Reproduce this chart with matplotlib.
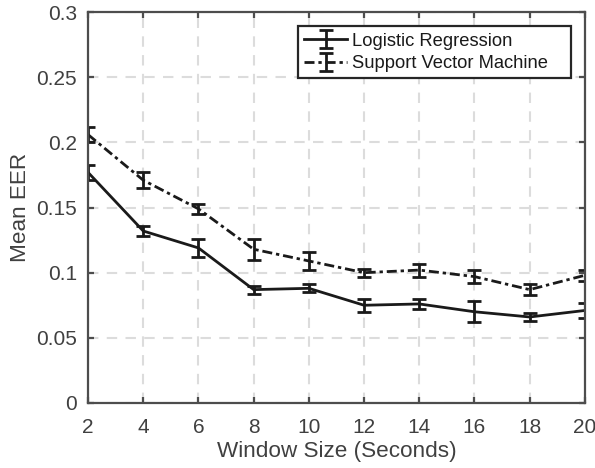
import matplotlib
matplotlib.use("Agg")
import matplotlib.pyplot as plt
from matplotlib.patches import Rectangle

window = [2, 4, 6, 8, 10, 12, 14, 16, 18, 20]
lr_mean = [0.177, 0.132, 0.119, 0.087, 0.088, 0.075, 0.076, 0.070, 0.066, 0.071]
lr_err = [0.006, 0.004, 0.007, 0.003, 0.003, 0.005, 0.004, 0.008, 0.003, 0.006]
svm_mean = [0.206, 0.171, 0.149, 0.118, 0.109, 0.100, 0.102, 0.097, 0.087, 0.098]
svm_err = [0.006, 0.006, 0.004, 0.008, 0.007, 0.003, 0.005, 0.005, 0.004, 0.004]
xticks = [2, 4, 6, 8, 10, 12, 14, 16, 18, 20]
yticks = [0, 0.05, 0.1, 0.15, 0.2, 0.25, 0.3]
ytick_labels = ["0", "0.05", "0.1", "0.15", "0.2", "0.25", "0.3"]

plt.rcParams['font.family'] = ['Liberation Sans', 'DejaVu Sans']
fig = plt.figure(figsize=(5.95, 4.68), dpi=100)
ax = fig.add_axes([0.148, 0.139, 0.835, 0.835])

axcol = '#4d4d4d'
txtcol = '#404040'
ax.errorbar(window, lr_mean, yerr=lr_err, color='#1a1a1a', lw=2, ls='-',
            capsize=5, capthick=2, elinewidth=2, label='Logistic Regression')
ax.errorbar(window, svm_mean, yerr=svm_err, color='#1a1a1a', lw=2, ls=(0, (3.6, 1.4, 1.2, 1.4)),
            capsize=5, capthick=2, elinewidth=2, label='Support Vector Machine')

ax.set_xlim(2, 20)
ax.set_ylim(0, 0.3)
ax.set_xticks(xticks)
ax.set_yticks(yticks)
ax.set_yticklabels(ytick_labels)
ax.grid(True, color='#dcdcdc', ls=(0, (5, 4)), lw=1.5)
ax.set_axisbelow(True)
for s in ax.spines.values():
    s.set_color(axcol)
    s.set_linewidth(1.6)
ax.tick_params(direction='in', length=4.5, width=1.6, colors=axcol, labelsize=15,
               top=True, right=True, labelcolor=txtcol)
ax.tick_params(axis='y', pad=8)
ax.tick_params(axis='x', pad=11)
ax.set_xlabel('Window Size (Seconds)', fontsize=16.2, color=txtcol, labelpad=3)
ax.set_ylabel('Mean EER', fontsize=16.2, color=txtcol, labelpad=4)

leg = ax.legend(loc='upper left', bbox_to_anchor=(0.4225, 0.964), fontsize=13.2,
                frameon=False, handlelength=2.35, handletextpad=0.27,
                borderaxespad=0, labelspacing=0.3, borderpad=0.35)
for t in leg.get_texts():
    t.set_color('#1a1a1a')
frame = Rectangle((0.4225, 0.831), 0.972 - 0.4225, 0.964 - 0.831, transform=ax.transAxes,
                  facecolor='white', edgecolor='#262626', lw=1.6, zorder=4.9)
ax.add_patch(frame)
leg.set_zorder(5)

fig.savefig('out.png', dpi=100)
